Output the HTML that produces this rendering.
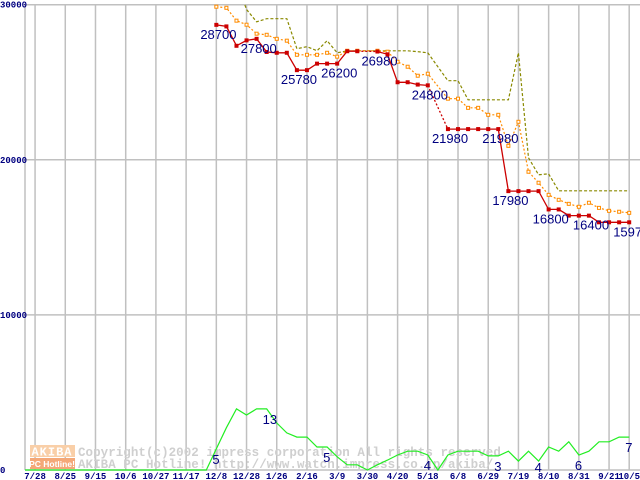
<!DOCTYPE html>
<html><head><meta charset="utf-8"><style>
html,body{margin:0;padding:0;background:#fff;width:640px;height:480px;overflow:hidden}
svg{display:block}
text{font-family:"Liberation Sans",sans-serif}
.ax{font-family:"Liberation Mono",monospace;font-size:9px;font-weight:bold;fill:#000080}
.lb{font-size:13px;fill:#000080}
.wm{font-family:"Liberation Mono",monospace;font-size:12.5px;font-weight:bold;fill:#cfcfcf;letter-spacing:0.05px}
</style></head><body>
<svg id="chart" width="640" height="480" xmlns="http://www.w3.org/2000/svg">
<defs><clipPath id="clip"><rect x="25" y="4.5" width="615" height="470"/></clipPath></defs>
<g id="grid"></g>
<g id="wm">
<rect x="30" y="445" width="45" height="12" fill="#f9cfa8"/>
<text x="52" y="455.5" text-anchor="middle" style="font-family:'Liberation Mono',monospace;font-size:12px;font-weight:bold;fill:#fff;letter-spacing:1px">AKIBA</text>
<rect x="30" y="458" width="45" height="11" fill="#f4a878"/>
<text x="52" y="467" text-anchor="middle" style="font-size:8.5px;font-weight:bold;fill:#fff">PC Hotline!</text>
<text class="wm" x="78" y="456">Copyright(c)2002 impress corporation All rights reserved</text>
<text class="wm" x="78" y="468">AKIBA PC Hotline! http://www.watch.impress.co.jp/akiba/</text>
</g>
<g id="series" clip-path="url(#clip)"></g>
<g id="labels"></g>
</svg>
<script>
const yTicks=[0,10000,20000,30000];
const xTickIdx=[1,4,7,10,13,16,19,22,25,28,31,34,37,40,43,46,49,52,55,58,60];
const xTickLabels=["7/28","8/25","9/15","10/6","10/27","11/17","12/8","12/28","1/26","2/16","3/9","3/30","4/20","5/18","6/8","6/29","7/19","8/10","8/31","9/21","10/5"];
const N=61;
const redIdx=[19,20,21,22,23,24,25,26,27,28,29,30,31,32,33,35,36,37,38,39,40,42,43,44,45,46,47,48,49,50,51,52,53,54,55,56,57,58,59,60];
const redVals=[28700,28600,27350,27700,27800,26950,26900,26900,25780,25780,26200,26200,26200,27000,27000,26980,26800,25000,25000,24850,24800,21980,21980,21980,21980,21980,21980,17980,17980,17980,17980,16800,16800,16400,16400,16400,15970,15970,15970,15970];
const orangeIdx=[19,20,21,22,23,24,25,26,27,28,29,30,31,32,33,35,36,37,38,39,40,42,43,44,45,46,47,48,49,50,51,52,53,54,55,56,57,58,59,60];
const orangeVals=[29870,29800,28970,28710,28130,28060,27800,27680,26770,26770,26770,26900,26650,27030,27030,27030,26970,26320,26000,25420,25550,23940,23940,23350,23350,22900,22900,20900,22450,19230,18520,17740,17420,17160,16970,17230,16900,16710,16650,16580];
const oliveIdx=[21,22,23,24,25,26,27,28,29,30,31,32,33,35,36,37,38,39,40,42,43,44,45,46,47,48,49,50,51,52,53,54,55,56,57,58,59,60];
const oliveVals=[31500,29700,28900,29100,29100,29100,27160,27290,27030,27680,26900,27030,27030,27030,27030,27030,27030,26970,26900,25100,25100,23870,23870,23870,23870,23870,26900,20130,19030,19100,18000,18000,18000,18000,18000,18000,18000,18000];
const volVals=[0,0,0,0,0,0,0,0,0,0,0,0,0,0,0,0,0,0,0,4.5,9,13,11.7,13,13,10,7.9,7,7,4.9,4.9,2.8,1.1,1.1,0,1.1,2.1,3.2,4,4,3.2,0,3.2,4,4,4,3,3,4,1.9,4,1.9,4.9,4,6,3.2,4,6,6,7,7];
const priceLabelIdx=[19,23,27,31,35,40,42,47,48,52,56,60];
const priceLabelText=["28700","27800","25780","26200","26980","24800","21980","21980","17980","16800","16400","15970"];
const volLabelIdx=[19,24,30,40,47,51,55,60];
const volLabelText=["5","13","5","4","3","4","6","7"];

const NS="http://www.w3.org/2000/svg";
const x=i=>25+i*10.07;
const y=v=>470-v*0.01551;
const yv=v=>470-v*4.7;
function mk(tag,attrs,parent){const e=document.createElementNS(NS,tag);for(const k in attrs)e.setAttribute(k,attrs[k]);parent.appendChild(e);return e;}
const grid=document.getElementById('grid'),ser=document.getElementById('series'),lab=document.getElementById('labels');
let e=mk('line',{x1:25,y1:4.5,x2:25,y2:470,stroke:'#c0c0c0','stroke-width':1.5},grid);


yTicks.forEach(v=>{
 let l=mk('line',{x1:25,x2:640,y1:y(v),y2:y(v),stroke:'#c0c0c0','stroke-width':1.5},grid);
 
 
 let t=mk('text',{x:0,y:y(v)+3,class:'ax'},grid);t.textContent=String(v);
 
 
});
xTickIdx.forEach((i,k)=>{
 let l=mk('line',{x1:x(i),x2:x(i),y1:4.5,y2:470,stroke:'#c0c0c0','stroke-width':1.5},grid);
 
 
 let t=mk('text',{x:x(i),y:479,class:'ax','text-anchor':'middle'},grid);t.textContent=xTickLabels[k];
 
 
});
function path(idx,vals,fy){let d='';idx.forEach((i,k)=>{d+=(k?'L':'M')+x(i).toFixed(1)+' '+fy(vals[k]).toFixed(1);});return d;}
let vi=volVals.map((v,i)=>i);
let pv=mk('path',{d:path(vi,volVals,yv),fill:'none',stroke:'#22ee22','stroke-width':1.2},ser);


let po=mk('path',{d:path(oliveIdx,oliveVals,y),fill:'none',stroke:'#8a8a00','stroke-width':1.2,'stroke-dasharray':'3,2'},ser);


let pr=mk('path',{d:path(orangeIdx,orangeVals,y),fill:'none',stroke:'#ff8c00','stroke-width':1.2,'stroke-dasharray':'2,2'},ser);


orangeIdx.forEach((i,k)=>{
 let r=mk('rect',{x:x(i)-1.5,y:y(orangeVals[k])-1.5,width:3,height:3,fill:'#fff',stroke:'#ff8c00','stroke-width':1},ser);
 
 
});
let d='';let prev=null;
redIdx.forEach((i,k)=>{d+=(prev!==null&&i-prev===1?'L':'M')+x(i).toFixed(1)+' '+y(redVals[k]).toFixed(1);prev=i;});
let prd=mk('path',{d:d,fill:'none',stroke:'#cc0000','stroke-width':1.3},ser);


let dg='';
for(let k=1;k<redIdx.length;k++){if(redIdx[k]-redIdx[k-1]>1)dg+='M'+x(redIdx[k-1]).toFixed(1)+' '+y(redVals[k-1]).toFixed(1)+'L'+x(redIdx[k]).toFixed(1)+' '+y(redVals[k]).toFixed(1);}
let pg=mk('path',{d:dg,fill:'none',stroke:'#cc0000','stroke-width':1.3,'stroke-dasharray':'2,2'},ser);


redIdx.forEach((i,k)=>{
 let r=mk('rect',{x:x(i)-2,y:y(redVals[k])-2,width:4,height:4,fill:'#cc0000'},ser);
 
 
});
priceLabelIdx.forEach((i,k)=>{
 let v=redVals[redIdx.indexOf(i)];
 let t=mk('text',{x:x(i)-16,y:y(v)+14,class:'lb'},lab);t.textContent=priceLabelText[k];
 
 
});
volLabelIdx.forEach((i,k)=>{
 let t=mk('text',{x:x(i)-4,y:Math.min(yv(volVals[i])+15,472),class:'lb'},lab);t.textContent=volLabelText[k];
 
 
});
</script>
</body></html>
